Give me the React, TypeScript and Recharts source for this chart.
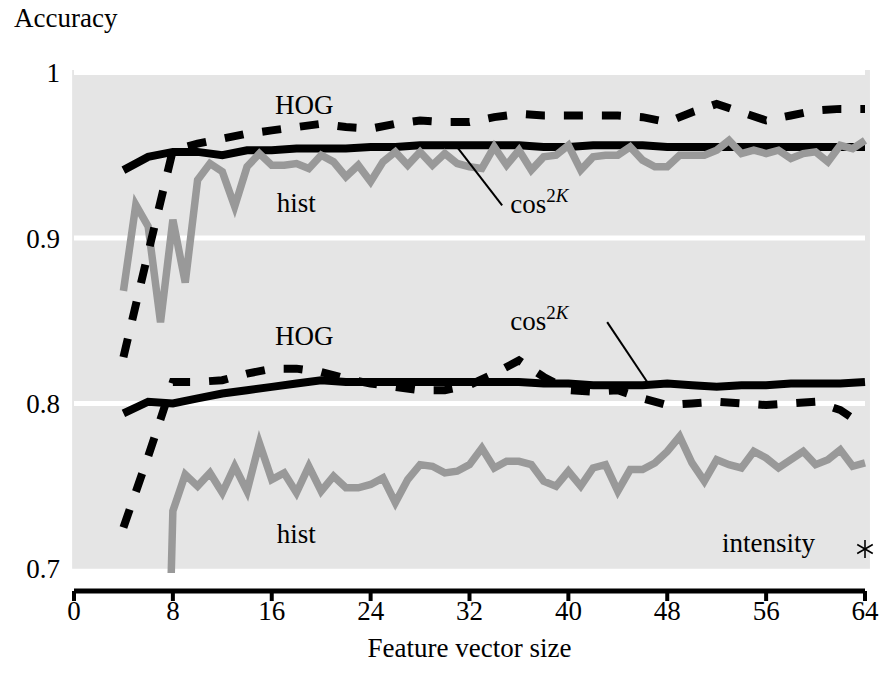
import React from 'react';
import {
  ComposedChart,
  Line,
  Scatter,
  XAxis,
  YAxis,
  ReferenceArea,
  ReferenceLine,
  ReferenceDot,
} from 'recharts';

const FONT = '"Liberation Serif", "Times New Roman", serif';
const TEXT_SIZE = 27;
const SUP_SIZE = 19;
const PANEL = '#e5e5e5';
const GREY = '#999999';
const INK = '#000000';

// Feature vector sizes
const sizesEven = [4, 6, 8, 10, 12, 14, 16, 18, 20, 22, 24, 26, 28, 30, 32, 34, 36, 38, 40, 42, 44, 46, 48, 50, 52, 54, 56, 58, 60, 62, 64];
const sizesAll = [4, 5, 6, 7, 8, 9, 10, 11, 12, 13, 14, 15, 16, 17, 18, 19, 20, 21, 22, 23, 24, 25, 26, 27, 28, 29, 30, 31, 32, 33, 34, 35, 36, 37, 38, 39, 40, 41, 42, 43, 44, 45, 46, 47, 48, 49, 50, 51, 52, 53, 54, 55, 56, 57, 58, 59, 60, 61, 62, 63, 64];
const sizesLowerHist = [7, 8, 9, 10, 11, 12, 13, 14, 15, 16, 17, 18, 19, 20, 21, 22, 23, 24, 25, 26, 27, 28, 29, 30, 31, 32, 33, 34, 35, 36, 37, 38, 39, 40, 41, 42, 43, 44, 45, 46, 47, 48, 49, 50, 51, 52, 53, 54, 55, 56, 57, 58, 59, 60, 61, 62, 63, 64];

// Upper group of curves
const hogUpper = [0.828, 0.891, 0.953, 0.957, 0.960, 0.963, 0.965, 0.967, 0.969, 0.967, 0.966, 0.969, 0.971, 0.970, 0.970, 0.973, 0.975, 0.974, 0.974, 0.974, 0.974, 0.973, 0.970, 0.976, 0.981, 0.976, 0.971, 0.974, 0.977, 0.978, 0.978];
const cosUpper = [0.941, 0.949, 0.952, 0.952, 0.950, 0.953, 0.953, 0.954, 0.954, 0.954, 0.955, 0.955, 0.956, 0.956, 0.956, 0.956, 0.956, 0.955, 0.955, 0.956, 0.956, 0.956, 0.955, 0.955, 0.955, 0.955, 0.955, 0.955, 0.955, 0.955, 0.955];
const histUpper = [0.868, 0.920, 0.907, 0.849, 0.911, 0.873, 0.935, 0.945, 0.940, 0.919, 0.943, 0.951, 0.944, 0.944, 0.945, 0.942, 0.950, 0.946, 0.937, 0.944, 0.934, 0.946, 0.952, 0.944, 0.952, 0.944, 0.951, 0.945, 0.943, 0.942, 0.955, 0.944, 0.953, 0.941, 0.949, 0.950, 0.956, 0.941, 0.949, 0.950, 0.950, 0.955, 0.947, 0.943, 0.943, 0.950, 0.950, 0.950, 0.953, 0.959, 0.951, 0.953, 0.951, 0.953, 0.948, 0.951, 0.952, 0.946, 0.956, 0.954, 0.959];

// Lower group of curves
const hogLower = [0.725, 0.768, 0.813, 0.813, 0.814, 0.818, 0.821, 0.821, 0.819, 0.815, 0.812, 0.810, 0.808, 0.808, 0.811, 0.818, 0.826, 0.816, 0.808, 0.807, 0.808, 0.803, 0.799, 0.800, 0.801, 0.800, 0.799, 0.800, 0.801, 0.796, 0.786];
const cosLower = [0.794, 0.801, 0.800, 0.803, 0.806, 0.808, 0.810, 0.812, 0.814, 0.813, 0.813, 0.813, 0.813, 0.813, 0.813, 0.813, 0.813, 0.812, 0.812, 0.811, 0.811, 0.811, 0.812, 0.811, 0.810, 0.811, 0.811, 0.812, 0.812, 0.812, 0.813];
const histLower = [0.45, 0.735, 0.757, 0.750, 0.758, 0.746, 0.762, 0.747, 0.776, 0.754, 0.758, 0.746, 0.762, 0.747, 0.756, 0.749, 0.749, 0.751, 0.755, 0.740, 0.754, 0.763, 0.762, 0.758, 0.759, 0.763, 0.773, 0.761, 0.765, 0.765, 0.763, 0.753, 0.750, 0.759, 0.750, 0.761, 0.763, 0.747, 0.760, 0.760, 0.764, 0.771, 0.780, 0.764, 0.753, 0.766, 0.763, 0.761, 0.771, 0.767, 0.761, 0.766, 0.771, 0.763, 0.766, 0.772, 0.762, 0.764];

// Intensity baseline: a single result
const intensitySize = [64];
const intensityAcc = [0.712];

const xTicks = [0, 8, 16, 24, 32, 40, 48, 56, 64];
const yTicks = [0.7, 0.8, 0.9, 1];
const gridLevels = [0.8, 0.9, 1];

// Curve names placed next to their curves (size, accuracy)
const curveNames = [
  { text: 'HOG', size: 18.63, acc: 0.975 },
  { text: 'hist', size: 17.98, acc: 0.9156 },
  { text: 'HOG', size: 18.63, acc: 0.8352 },
  { text: 'hist', size: 17.98, acc: 0.7155 },
  { text: 'intensity', size: 56.19, acc: 0.7104 },
];
const cosNames = [
  { size: 35.29, acc: 0.9149 },
  { size: 35.29, acc: 0.8442 },
];
const cosPointers = [
  { from: { size: 31.08, acc: 0.9541 }, to: { size: 34.64, acc: 0.9197 } },
  { from: { size: 43.14, acc: 0.8491 }, to: { size: 46.38, acc: 0.8129 } },
];

// Y range of the panel, and the level at which the detached x-axis line is drawn
const Y_DOMAIN: [number, number] = [0.6975, 1.0015];
const PANEL_BOTTOM = 0.7;
const AXIS_LINE_LEVEL = 0.6866;

type Pt = { size: number; acc: number };
const zip = (xs: number[], ys: number[]): Pt[] => xs.map((size, i) => ({ size, acc: ys[i] }));

const Asterisk = (props: any) => {
  const { cx, cy } = props;
  const r = 9;
  const angles = [90, 30, -30];
  return (
    <g>
      {angles.map((a) => {
        const dx = r * Math.cos((a * Math.PI) / 180);
        const dy = r * Math.sin((a * Math.PI) / 180);
        return (
          <line key={a} x1={cx - dx} y1={cy + dy} x2={cx + dx} y2={cy - dy} stroke={INK} strokeWidth={1.6} />
        );
      })}
    </g>
  );
};

const nameShape = (text: string) => (p: any) => (
  <text x={p.cx} y={p.cy} textAnchor="middle" fontFamily={FONT} fontSize={TEXT_SIZE} fill={INK}>
    {text}
  </text>
);

const cosShape = (p: any) => (
  <text x={p.cx} y={p.cy} textAnchor="start" fontFamily={FONT} fontSize={TEXT_SIZE} fill={INK}>
    cos
    <tspan dy={-11} fontSize={SUP_SIZE}>2</tspan>
    <tspan fontSize={SUP_SIZE} fontStyle="italic">K</tspan>
  </text>
);

// x tick: short mark hanging from the detached axis line, then the number
const XTick = (p: any) => {
  const { x, y, payload } = p;
  return (
    <g>
      <line x1={x} x2={x} y1={y + 18} y2={y + 28} stroke={INK} strokeWidth={4} />
      <text x={x} y={y + 46.5} textAnchor="middle" fontFamily={FONT} fontSize={TEXT_SIZE} fill={INK}>
        {payload.value}
      </text>
    </g>
  );
};

const YTitle = (p: any) => {
  const vb = p.viewBox;
  return (
    <text x={vb.x + 14} y={vb.y - 43} fontFamily={FONT} fontSize={TEXT_SIZE} fill={INK}>
      Accuracy
    </text>
  );
};

const XTitle = (p: any) => {
  const vb = p.viewBox;
  return (
    <text x={vb.x + vb.width / 2} y={vb.y + 84} textAnchor="middle" fontFamily={FONT} fontSize={TEXT_SIZE} fill={INK}>
      Feature vector size
    </text>
  );
};

const yTickStyle = { fill: INK, fontSize: TEXT_SIZE, fontFamily: FONT };

export default function App() {
  return (
    <div style={{ position: 'fixed', left: 0, top: 0, width: 884, height: 673, background: '#fff' }}>
      <ComposedChart width={884} height={673} margin={{ top: 70, right: 19, bottom: 0, left: 0 }}>
        <XAxis
          type="number"
          dataKey="size"
          domain={[0, 64]}
          ticks={xTicks}
          interval={0}
          height={100}
          axisLine={false}
          tickLine={false}
          tickSize={0}
          tickMargin={0}
          tick={XTick}
          label={{ content: XTitle }}
        />
        <YAxis
          type="number"
          dataKey="acc"
          domain={Y_DOMAIN}
          allowDataOverflow
          ticks={yTicks}
          interval={0}
          width={74}
          axisLine={false}
          tickLine={false}
          tickSize={6}
          tickMargin={8}
          tick={yTickStyle}
          label={{ content: YTitle }}
        />

        <ReferenceArea
          x1={-0.15}
          x2={64.4}
          y1={PANEL_BOTTOM}
          y2={Y_DOMAIN[1]}
          fill={PANEL}
          fillOpacity={1}
          stroke="none"
          ifOverflow="visible"
          zIndex={-200}
        />
        {gridLevels.map((g) => (
          <ReferenceLine key={g} y={g} stroke="#ffffff" strokeWidth={5} ifOverflow="visible" zIndex={-150} />
        ))}

        {/* x-axis line, set a little below the panel */}
        <ReferenceLine
          segment={[
            { x: xTicks[0], y: AXIS_LINE_LEVEL },
            { x: xTicks[xTicks.length - 1], y: AXIS_LINE_LEVEL },
          ]}
          stroke={INK}
          strokeWidth={5}
          ifOverflow="visible"
        />

        <Line data={zip(sizesEven, cosUpper)} dataKey="acc" stroke={INK} strokeWidth={8} dot={false} isAnimationActive={false} />
        <Line data={zip(sizesAll, histUpper)} dataKey="acc" stroke={GREY} strokeWidth={7.5} dot={false} isAnimationActive={false} />
        <Line data={zip(sizesEven, hogUpper)} dataKey="acc" stroke={INK} strokeWidth={8} strokeDasharray="19 19" dot={false} isAnimationActive={false} />

        <Line data={zip(sizesEven, cosLower)} dataKey="acc" stroke={INK} strokeWidth={8} dot={false} isAnimationActive={false} />
        <Line data={zip(sizesLowerHist, histLower)} dataKey="acc" stroke={GREY} strokeWidth={7.5} dot={false} isAnimationActive={false} />
        <Line data={zip(sizesEven, hogLower)} dataKey="acc" stroke={INK} strokeWidth={8} strokeDasharray="19 19" dot={false} isAnimationActive={false} />

        <Scatter data={zip(intensitySize, intensityAcc)} dataKey="acc" shape={Asterisk} isAnimationActive={false} />

        {cosPointers.map((p, i) => (
          <ReferenceLine
            key={`ptr-${i}`}
            segment={[
              { x: p.from.size, y: p.from.acc },
              { x: p.to.size, y: p.to.acc },
            ]}
            stroke={INK}
            strokeWidth={2}
            ifOverflow="visible"
          />
        ))}
        {curveNames.map((n, i) => (
          <ReferenceDot key={`name-${i}`} x={n.size} y={n.acc} ifOverflow="visible" shape={nameShape(n.text)} />
        ))}
        {cosNames.map((n, i) => (
          <ReferenceDot key={`cos-${i}`} x={n.size} y={n.acc} ifOverflow="visible" shape={cosShape} />
        ))}
      </ComposedChart>
    </div>
  );
}
